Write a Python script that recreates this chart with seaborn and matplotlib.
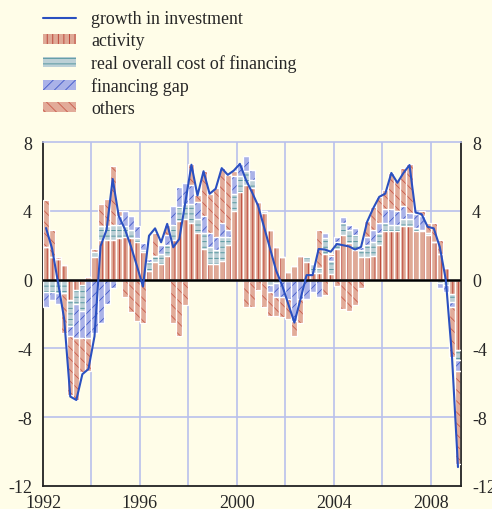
import numpy as np
import pandas as pd
import matplotlib
matplotlib.use("Agg")
import matplotlib.pyplot as plt
from matplotlib.patches import Patch
from matplotlib.lines import Line2D
import seaborn as sns

# quarterly data, 1992Q1 .. 2009Q1
start_year = 1992
activity = [1.9, 1.3, 1.2, 0.85, -1.2, -0.6, -0.3, 0.15,
            1.3, 2.3, 2.3, 2.3, 2.4, 2.5, 2.4, 2.2,
            1.6, 0.5, 1.0, 0.9, 1.4, 2.3, 3.4, 3.5,
            3.3, 2.7, 1.8, 0.9, 0.9, 1.1, 2.0, 4.0,
            5.1, 5.5, 5.3, 4.5, 3.9, 2.9, 1.9, 1.3,
            0.45, 0.8, 1.4, 1.0, 0.4, 0.4, 1.5, 0.3,
            1.8, 2.6, 2.1, 1.7, 1.3, 1.3, 1.4, 2.0,
            2.8, 2.8, 2.8, 3.1, 3.1, 2.8, 2.8, 2.6,
            2.2, 1.5, 0.7, -0.85, -4.1]
cost = [-0.7, -0.7, -0.8, -0.8, -1.5, -0.8, -1.5, 0.0,
        0.3, 0.8, 0.8, 0.9, 0.8, 0.6, 0.5, 0.2,
        0.1, 0.5, 0.4, 0.6, 0.6, 0.9, 0.8, 0.9,
        1.1, 0.8, 0.9, 1.0, 0.8, 1.4, 0.5, 1.0,
        0.9, 0.8, 0.5, 0.0, 0.1, -0.3, -0.2, -0.1,
        -0.1, 0.0, 0.0, 0.3, 0.5, 0.3, 0.9, 0.8,
        0.4, 0.7, 0.8, 0.9, 0.4, 0.7, 0.8, 0.7,
        0.5, 0.4, 0.4, 0.4, 0.4, 0.2, 0.1, 0.1,
        -0.1, -0.2, -0.3, -0.45, -0.6]
gap = [-0.9, -0.5, -0.6, 0.0, -0.6, -2.0, -1.6, -3.4,
       -3.1, -2.5, -1.4, -0.5, 0.5, 0.9, 0.8, 0.7,
       0.4, 0.2, 0.0, 0.5, 0.6, 1.1, 1.2, 1.2,
       1.1, 1.0, 1.0, 0.8, 0.8, 0.8, 0.4, 1.0,
       0.7, 0.9, 0.6, 0.0, 0.0, -0.4, -0.8, -0.9,
       -1.0, -2.4, -1.1, -1.1, -0.7, -1.0, 0.3, 0.3,
       0.3, 0.35, 0.3, 0.4, 0.2, 0.5, 0.7, 0.6,
       0.8, 0.9, 0.8, 0.8, 0.4, 0.8, 0.8, 0.0,
       0.0, -0.3, -0.4, -0.3, -0.6]
others = [2.7, 1.6, 0.1, -2.3, -3.4, -3.6, -2.0, -1.9,
          0.2, 1.3, 1.6, 3.4, 0.3, -1.0, -1.9, -2.4,
          -2.5, 0.0, 1.3, 0.0, 0.6, -2.5, -3.3, -1.5,
          1.2, 0.4, 2.6, 2.3, 2.8, 3.2, 3.2, 0.3,
          0.0, -1.6, -1.6, -0.6, -1.6, -1.4, -1.1, -1.2,
          -1.2, -0.9, -1.4, 0.0, 0.0, 2.2, -0.9, 0.1,
          -0.4, -1.7, -1.8, -1.5, -0.5, 0.9, 1.3, 1.5,
          1.1, 2.1, 1.8, 2.2, 2.8, 0.1, 0.3, 0.6,
          1.1, 0.8, 0.0, -2.9, -5.4]
investment = [3.0, 1.8, -0.2, -2.3, -6.8, -7.0, -5.5, -5.2,
              -3.3, 1.95, 2.9, 5.85, 3.7, 2.95, 1.95, 0.8,
              -0.4, 2.55, 2.98, 2.17, 3.24, 1.88, 2.36, 4.5,
              6.68, 4.89, 6.3, 4.99, 5.28, 6.48, 6.09, 6.34,
              6.73, 5.8, 5.08, 4.3, 3.04, 1.78, 0.51, -0.36,
              -1.43, -2.5, -1.14, 0.26, 0.26, 1.78, 1.75, 1.62,
              2.07, 2.0, 1.93, 1.75, 1.9, 3.36, 4.14, 4.81,
              5.0, 6.2, 5.63, 6.2, 6.66, 3.9, 3.8, 3.07,
              2.98, 1.9, -0.03, -4.4, -10.9]

labels = ["activity", "real overall cost of financing", "financing gap", "others"]
faces = ["#dfa996", "#bcd0d6", "#aab2e8", "#e2ab99"]
hatch_cols = ["#b83a2e", "#4a8f98", "#4058c8", "#c85a4a"]
hatches = ["|||", "---", "///", "\\\\\\"]

n = len(investment)
t = start_year + np.arange(n) * 0.25 + 0.125
df = pd.DataFrame({"t": t, "growth": investment})

sns.set_style("white")
bg = "#fffde8"
plt.rcParams["font.family"] = ["Liberation Serif", "DejaVu Serif"]
plt.rcParams["hatch.linewidth"] = 0.6

fig = plt.figure(figsize=(4.92, 5.10), dpi=100, facecolor=bg)
ax = fig.add_axes([0.0874, 0.0451, 0.8496, 0.6745])
ax.set_facecolor(bg)

grid_col = "#b9c0ec"
for yv in [4, -4, -8]:
    ax.axhline(yv, color=grid_col, lw=1.2, zorder=0)
for xv in range(1994, 2009, 2):
    ax.axvline(xv, color=grid_col, lw=1.2, zorder=0)

# stack positives upward and negatives downward from zero
pos_b = np.zeros(n)
neg_b = np.zeros(n)
for vals, fc, hc, h in zip([activity, cost, gap, others], faces, hatch_cols, hatches):
    v = np.array(vals)
    pos = np.where(v > 0, v, 0)
    neg = np.where(v < 0, v, 0)
    for hgt, bot in [(pos, pos_b), (neg, neg_b)]:
        ax.bar(t, hgt, 0.25, bottom=bot, color=fc, edgecolor=hc, hatch=h,
               linewidth=0, zorder=2)
        ax.bar(t, hgt, 0.25, bottom=bot, fill=False, edgecolor="white",
               linewidth=0.9, zorder=3)
    pos_b = pos_b + pos
    neg_b = neg_b + neg

ax.axhline(0, color="black", lw=1.8, zorder=4)
sns.lineplot(data=df, x="t", y="growth", ax=ax, color="#2a50c0", lw=1.5, zorder=5)

ax.set_xlim(1992, 2009.25)
ax.set_ylim(-12, 8)
ax.set_yticks([-12, -8, -4, 0, 4, 8])
ax.set_yticklabels(["-12", "-8", "-4", "0", "4", "8"])
ax.set_xticks(range(1992, 2009, 2))
ax.set_xticklabels([str(y) if y % 4 == 0 else "" for y in range(1992, 2009, 2)])
ax.tick_params(axis="x", direction="out", length=5, width=1, color="black",
               labelsize=13, pad=1)
ax.tick_params(axis="y", length=0, labelsize=13, labelright=True, pad=8)
ax.set_xlabel("")
ax.set_ylabel("")
for side in ["left", "right", "bottom"]:
    ax.spines[side].set_color("#222222")
    ax.spines[side].set_linewidth(1.3)
ax.spines["top"].set_color(grid_col)
ax.spines["top"].set_linewidth(1.2)
for s in ax.spines.values():
    s.set_visible(True)

handles = [Line2D([0], [0], color="#2a50c0", lw=1.5)]
for fc, hc, h in zip(faces, hatch_cols, hatches):
    handles.append(Patch(facecolor=fc, edgecolor=hc, hatch=h, linewidth=0))
fig.legend(handles, ["growth in investment"] + labels, loc="upper left",
           bbox_to_anchor=(0.072, 0.992), frameon=False, fontsize=12.9,
           handlelength=1.85, handleheight=0.5, labelspacing=0.28,
           handletextpad=0.85, borderaxespad=0.0)

fig.savefig("out.png", dpi=100, facecolor=bg)
